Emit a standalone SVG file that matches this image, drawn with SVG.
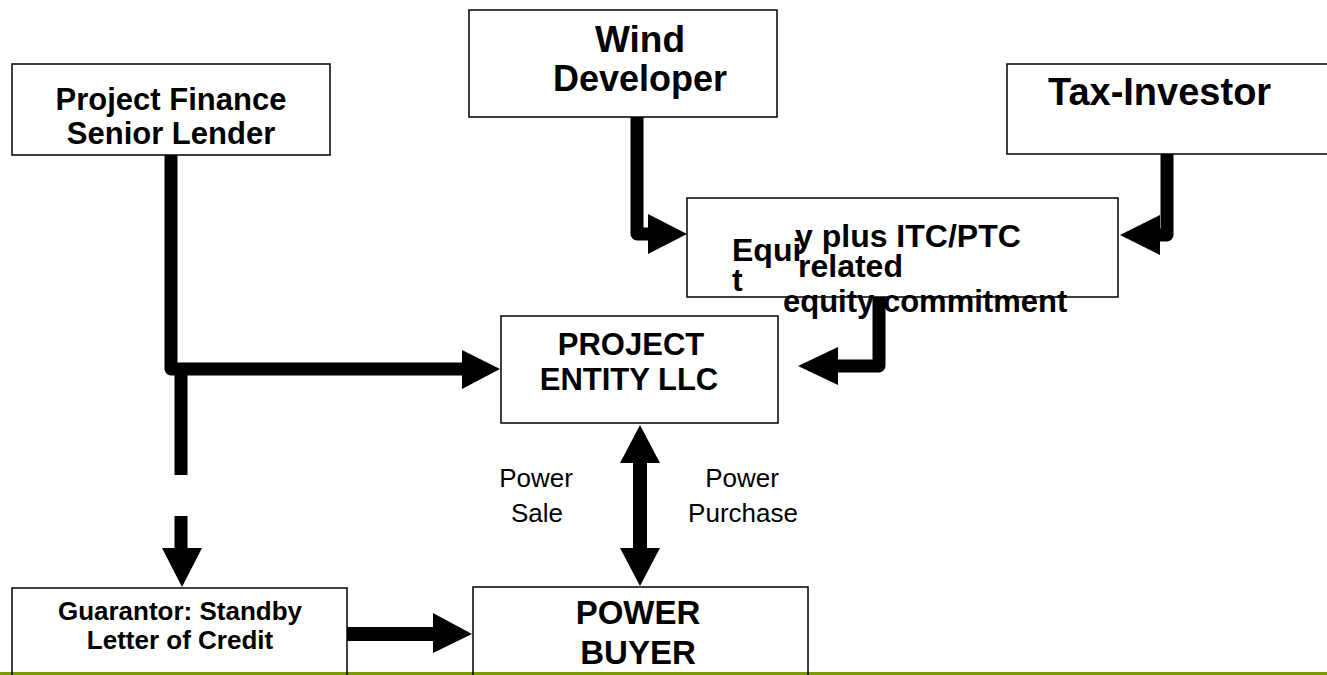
<svg xmlns="http://www.w3.org/2000/svg" width="1327" height="675" viewBox="0 0 1327 675">
<style>
.box{fill:none;stroke:#000;stroke-width:1.5}
.b{font-family:"Liberation Sans",Arial,sans-serif;font-weight:bold;fill:#000}
.r{font-family:"Liberation Sans",Arial,sans-serif;fill:#000}
.ln{fill:none;stroke:#000;stroke-width:13;stroke-linejoin:round}
.hd{fill:#000}
</style>
<rect x="0" y="0" width="1327" height="675" fill="#fff"/>
<rect x="0" y="672" width="1327" height="3" fill="#7a9a00"/>
<g id="lender">
<rect class="box" x="12" y="64" width="318" height="91"/>
<text class="b" font-size="31" text-anchor="middle" x="171" y="110">Project Finance</text>
<text class="b" font-size="31" text-anchor="middle" x="171" y="144">Senior Lender</text>
</g>
<g id="developer">
<rect class="box" x="469" y="10" width="308" height="107"/>
<text class="b" font-size="37" text-anchor="middle" x="640" y="52">Wind</text>
<text class="b" font-size="36" text-anchor="middle" x="640" y="91">Developer</text>
</g>
<g id="taxinvestor">
<rect class="box" x="1007" y="64" width="330" height="90"/>
<text class="b" font-size="38" x="1048" y="105">Tax-Investor</text>
</g>
<g id="equity">
<rect class="box" x="687" y="198" width="431" height="99"/>
<text class="b" font-size="32" x="732" y="261">Equi</text>
<text class="b" font-size="32" x="732" y="291">t</text>
<text class="b" font-size="32" x="795" y="247">y plus ITC/PTC</text>
<text class="b" font-size="32" x="798" y="277">related</text>
<text class="b" font-size="31" x="783" y="312">equity commitment</text>
</g>
<g id="project">
<rect class="box" x="501" y="316" width="277" height="107"/>
<text class="b" font-size="31" text-anchor="middle" x="631" y="355">PROJECT</text>
<text class="b" font-size="31" text-anchor="middle" x="629" y="390">ENTITY LLC</text>
</g>
<g id="guarantor">
<rect class="box" x="12" y="588" width="335" height="100"/>
<text class="b" font-size="26" text-anchor="middle" x="180" y="620">Guarantor: Standby</text>
<text class="b" font-size="26" text-anchor="middle" x="180" y="649">Letter of Credit</text>
</g>
<g id="buyer">
<rect class="box" x="473" y="587" width="335" height="100"/>
<text class="b" font-size="33" text-anchor="middle" x="638" y="624">POWER</text>
<text class="b" font-size="33" text-anchor="middle" x="638" y="664">BUYER</text>
</g>
<g id="labels">
<text class="r" font-size="26" text-anchor="middle" x="536" y="487">Power</text>
<text class="r" font-size="26" text-anchor="middle" x="537" y="522">Sale</text>
<text class="r" font-size="26" text-anchor="middle" x="742" y="487">Power</text>
<text class="r" font-size="26" text-anchor="middle" x="743" y="522">Purchase</text>
</g>
<g id="connectors">
<path class="ln" d="M171,155 V369 H463"/>
<polygon class="hd" points="462,350 500,369 462,389"/>
<path class="ln" d="M181,369 V475 M181,516 V549" style="stroke-linejoin:miter"/>
<polygon class="hd" points="162,548 202,548 182,587"/>
<path class="ln" d="M637,117 V234 H649"/>
<polygon class="hd" points="648,214 687,234 648,254"/>
<path class="ln" d="M1167,154 V235 H1159"/>
<polygon class="hd" points="1160,215 1120,235 1160,255"/>
<path class="ln" d="M879,297 V366 H837"/>
<polygon class="hd" points="838,347 798,366 838,385"/>
<rect class="hd" x="633" y="462" width="14" height="87"/>
<polygon class="hd" points="640,425 660,463 620,463"/>
<polygon class="hd" points="640,586 660,548 620,548"/>
<rect class="hd" x="347" y="627" width="87" height="14"/>
<polygon class="hd" points="433,613 472,634 433,653"/>
</g>
</svg>
